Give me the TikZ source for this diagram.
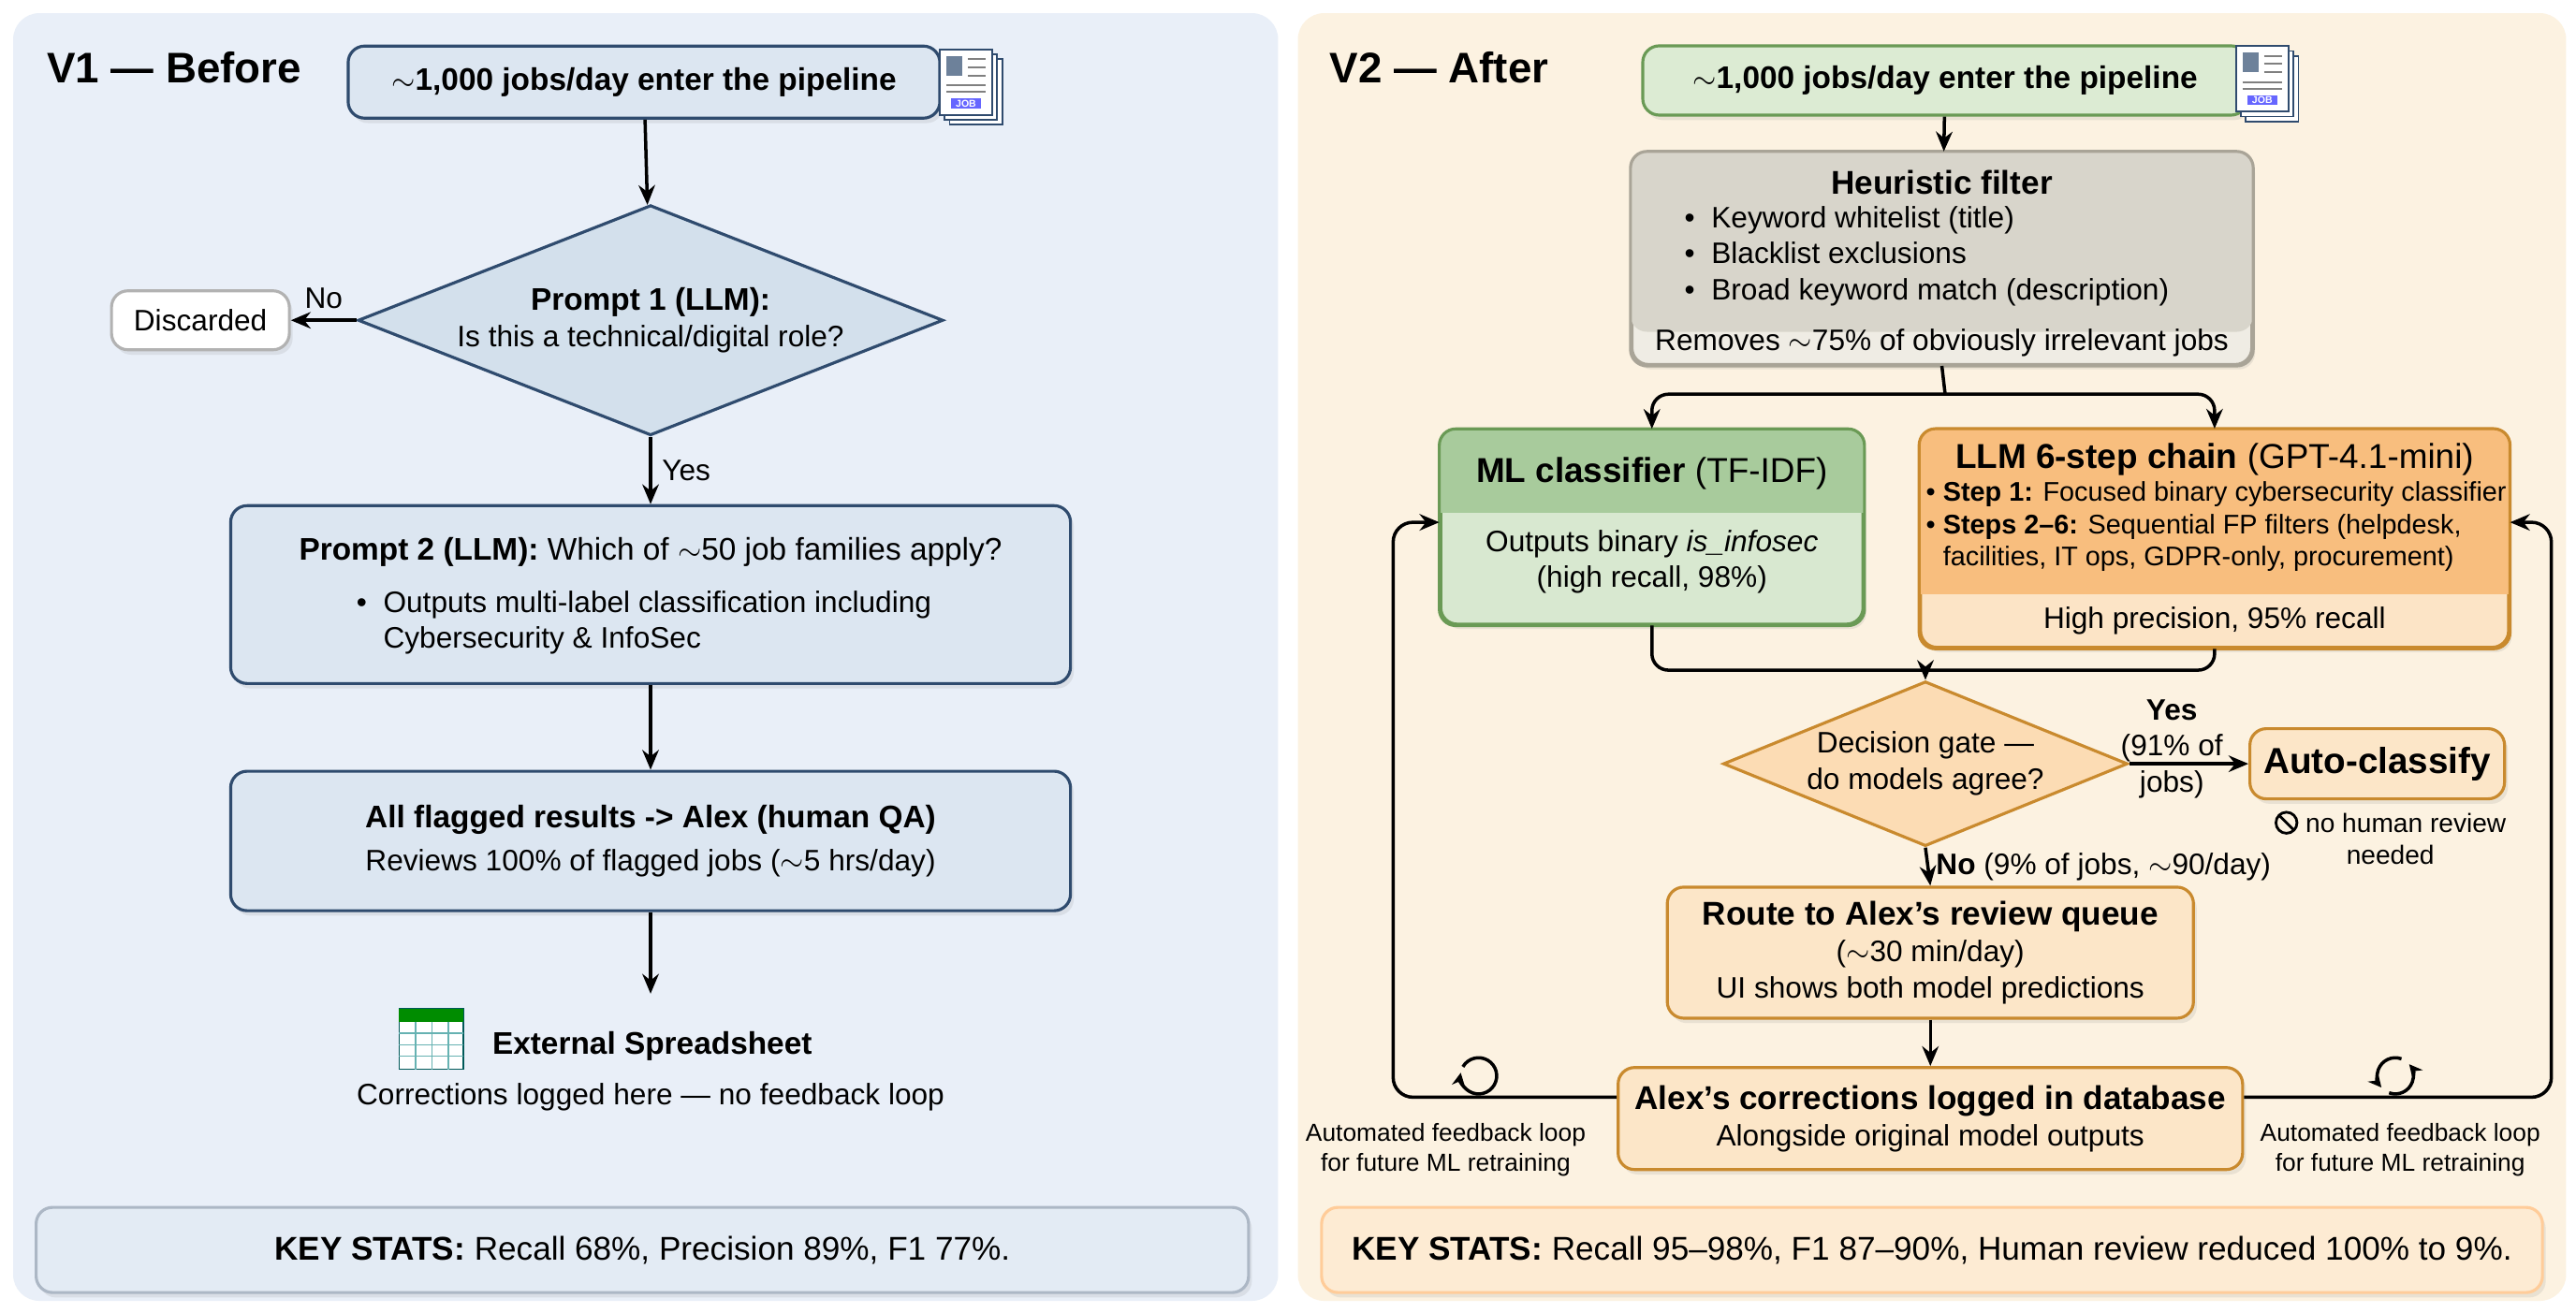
\documentclass[tikz,border=0pt]{standalone}
\usepackage{fontspec}
\setmainfont{Liberation Sans}
\usetikzlibrary{shapes.geometric,shadows,arrows.meta,calc}
\definecolor{leftbg}{HTML}{E9EFF8}
\definecolor{rightbg}{HTML}{FCF2E1}
\definecolor{bluefill}{HTML}{DCE6F1}
\definecolor{gatefill}{HTML}{D3E0EC}
\definecolor{blueline}{HTML}{2F4B6E}
\definecolor{greenfill}{HTML}{DCEBD3}
\definecolor{greenline}{HTML}{6A9A55}
\definecolor{heurhead}{HTML}{D8D5CB}
\definecolor{heurbody}{HTML}{EFECE4}
\definecolor{heurline}{HTML}{A9A497}
\definecolor{mlhead}{HTML}{A8CB9C}
\definecolor{mlbody}{HTML}{D8E8D0}
\definecolor{llmhead}{HTML}{F8BE7E}
\definecolor{llmbody}{HTML}{FCE4C6}
\definecolor{orangeline}{HTML}{C98A2E}
\definecolor{orangefill}{HTML}{FCE6C8}
\tikzset{
  box/.style={rectangle, rounded corners=5pt, draw, line width=0.9pt, align=center,
    inner sep=0pt, font=\fontsize{9}{11}\selectfont,
    drop shadow={opacity=0.15, shadow xshift=1pt, shadow yshift=-1.5pt}},
  vbox/.style={box, fill=bluefill, draw=blueline},
  obox/.style={box, fill=orangefill, draw=orangeline},
  gate/.style={diamond, draw, line width=0.9pt, align=center, inner sep=0pt,
    font=\fontsize{9}{11}\selectfont},
  txt/.style={align=center, inner sep=0pt, font=\fontsize{9}{11}\selectfont},
  small/.style={align=center, inner sep=0pt, font=\fontsize{7.5}{9}\selectfont},
  arr/.style={-{Stealth[length=6pt,width=5pt]}, line width=1pt},
  link/.style={line width=1pt, rounded corners=5pt},
  icon/.style={line width=1pt, -{Stealth[length=4pt,width=4pt]}},
}
\newcommand{\jobicon}[1]{%
  \foreach \d in {6,3,0}
    \draw[blueline, fill=white, line width=0.5pt] ($(#1)+(\d-16,\d-20)$) rectangle ($(#1)+(\d+16,\d+20)$);
  \fill[blueline!70] ($(#1)+(-12,-16)$) rectangle ($(#1)+(-2,-4)$);
  \foreach \l in {-14,-9,-4} \draw[gray, line width=0.6pt] ($(#1)+(1,\l)$) -- ($(#1)+(12,\l)$);
  \foreach \l in {2,6} \draw[gray, line width=0.6pt] ($(#1)+(-12,\l)$) -- ($(#1)+(12,\l)$);
  \fill[blue!60] ($(#1)+(-9,10)$) rectangle ($(#1)+(9,16)$);
  \node[font=\fontsize{3}{3}\selectfont\bfseries, text=white] at ($(#1)+(0,13)$) {JOB};}
\begin{document}
\begin{tikzpicture}[x=0.01755cm, y=-0.01755cm]
\useasboundingbox (0,0) rectangle (1568,799);
\fill[white] (0,0) rectangle (1568,799);
% panels
\fill[leftbg, rounded corners=8pt] (8,8) rectangle (778,792);
\fill[rightbg, rounded corners=8pt] (790,8) rectangle (1562,792);

% ---- V1 before
\node[inner sep=0pt, font=\fontsize{13}{15}\selectfont\bfseries] (t1) at (106,41) {V1 --- Before};
\node[vbox, minimum width=6.32cm, minimum height=0.77cm, font=\fontsize{9.5}{11}\selectfont\bfseries] (in1) at (392,50) {$\sim$1,000 jobs/day enter the pipeline};
\jobicon{588,50}
\node[gate, aspect=2.5, fill=gatefill, draw=blueline, minimum width=6.25cm, minimum height=2.46cm] (p1) at (396,195)
  {{\fontsize{9.5}{11}\selectfont\textbf{Prompt 1 (LLM):}}\\Is this a technical/digital role?};
\node[box, fill=white, draw=gray!60, minimum width=1.9cm, minimum height=0.63cm] (disc) at (122,195) {Discarded};
\node[vbox, minimum width=8.97cm, minimum height=1.9cm] (p2) at (396,362) {};
\node[txt, font=\fontsize{9.5}{11}\selectfont] (p2a) at (396,336) {\textbf{Prompt 2 (LLM):} Which of $\sim$50 job families apply?};
\node[txt, align=left] (p2b) at (392,379) {\textbullet\ \ Outputs multi-label classification including\\\phantom{\textbullet\ \ }Cybersecurity \& InfoSec};
\node[vbox, minimum width=8.97cm, minimum height=1.49cm] (qa) at (396,512)
  {{\fontsize{9.5}{11}\selectfont\textbf{All flagged results -> Alex (human QA)}}\\[2pt]Reviews 100\% of flagged jobs ($\sim$5 hrs/day)};
\node[txt, font=\fontsize{9.5}{11}\selectfont\bfseries] (sheet) at (397,637) {External Spreadsheet};
\node[txt] (sheetb) at (396,668) {Corrections logged here --- no feedback loop};
% spreadsheet icon
\draw[teal!70!black, fill=white, line width=0.5pt] (243,614) rectangle (282,651);
\fill[green!55!black] (243,614) rectangle (282,622);
\foreach \xx in {253,263,273} \draw[teal!60, line width=0.4pt] (\xx,622) -- (\xx,651);
\foreach \yy in {629,636,643} \draw[teal!60, line width=0.4pt] (243,\yy) -- (282,\yy);
\node[vbox, fill=bluefill!80!white, draw=blueline!40, minimum width=12.95cm, minimum height=0.91cm, font=\fontsize{10}{12}\selectfont] (ks1) at (391,761)
  {\textbf{KEY STATS:} Recall 68\%, Precision 89\%, F1 77\%.};
\draw[arr] (in1) -- (p1);
\draw[arr] (p1) -- (disc) node[midway, above, txt, yshift=3pt] {No};
\draw[arr] (p1) -- (p2) node[midway, right, txt, xshift=3pt] {Yes};
\draw[arr] (p2) -- (qa);
\draw[arr] (qa) -- (396,605);

% ---- V2 after
\node[inner sep=0pt, font=\fontsize{13}{15}\selectfont\bfseries] (t2) at (876,41) {V2 --- After};
\node[box, fill=greenfill, draw=greenline, minimum width=6.46cm, minimum height=0.74cm, font=\fontsize{9.5}{11}\selectfont\bfseries] (in2) at (1184,49) {$\sim$1,000 jobs/day enter the pipeline};
\jobicon{1377,48}
% heuristic filter
\node[box, fill=heurbody, draw=heurline, minimum width=6.62cm, minimum height=2.26cm] (heur) at (1182,157.5) {};
\fill[heurhead, rounded corners=5pt] (heur.north west) rectangle (heur.east |- 0,202);
\fill[heurhead] (heur.west |- 0,185) rectangle (heur.east |- 0,195);
\draw[heurline, line width=0.9pt, rounded corners=5pt] (heur.south west) rectangle (heur.north east);
\node[txt, font=\fontsize{10}{12}\selectfont\bfseries] (heurt) at (1182,111) {Heuristic filter};
\node[txt, align=left, anchor=north west] (heurl) at (1025,125) {\textbullet\ \ Keyword whitelist (title)\\\textbullet\ \ Blacklist exclusions\\\textbullet\ \ Broad keyword match (description)};
\node[txt] (heurb) at (1182,208.5) {Removes $\sim$75\% of obviously irrelevant jobs};
% ML classifier
\node[box, fill=mlbody, draw=greenline, minimum width=4.51cm, minimum height=2.07cm] (ml) at (1005.5,321) {};
\begin{scope}
\clip[rounded corners=5pt] (ml.south west) rectangle (ml.north east);
\fill[mlhead] (ml.north west) rectangle (ml.east |- 0,312);
\end{scope}
\draw[greenline, line width=0.9pt, rounded corners=5pt] (ml.south west) rectangle (ml.north east);
\node[txt, font=\fontsize{10.5}{12}\selectfont] (mlt) at (1005.5,288) {\textbf{ML classifier} (TF-IDF)};
\node[txt] (mlb) at (1005.5,342) {Outputs binary \emph{is\_infosec}\\(high recall, 98\%)};
% LLM chain
\node[box, fill=llmbody, draw=orangeline, minimum width=6.28cm, minimum height=2.32cm] (llm) at (1348,328) {};
\begin{scope}
\clip[rounded corners=5pt] (llm.south west) rectangle (llm.north east);
\fill[llmhead] (llm.north west) rectangle (llm.east |- 0,362);
\end{scope}
\draw[orangeline, line width=0.9pt, rounded corners=5pt] (llm.south west) rectangle (llm.north east);
\node[txt, font=\fontsize{10.5}{12}\selectfont] (llmt) at (1348,280) {\textbf{LLM 6-step chain} (GPT-4.1-mini)};
\node[txt, align=left, anchor=north west, font=\fontsize{8.2}{9.8}\selectfont] (llml) at (1172,293)
  {\textbullet\ \textbf{Step 1:} Focused binary cybersecurity classifier\\\textbullet\ \textbf{Steps 2--6:} Sequential FP filters (helpdesk,\\\phantom{\textbullet\ }facilities, IT ops, GDPR-only, procurement)};
\node[txt] (llmb) at (1348,378) {High precision, 95\% recall};
% decision
\node[gate, aspect=2.45, fill=orangefill!90!orange, draw=orangeline, minimum width=4.32cm, minimum height=1.76cm] (gate) at (1172,465)
  {Decision gate ---\\do models agree?};
\node[box, fill=orangefill, draw=orangeline, minimum width=2.72cm, minimum height=0.75cm, font=\fontsize{11}{13}\selectfont\bfseries] (auto) at (1447,465) {Auto-classify};
\node[small, font=\fontsize{8}{9.6}\selectfont] (nohr) at (1455,510) {\tikz[baseline=-3pt]{\draw[line width=0.8pt] (0,0) circle (3.2pt); \draw[line width=0.8pt] (-2.2pt,2.2pt) -- (2.2pt,-2.2pt);}\ no human review\\needed};
\node[obox, minimum width=5.62cm, minimum height=1.4cm] (route) at (1175,580)
  {{\fontsize{10}{12}\selectfont\textbf{Route to Alex's review queue}}\\($\sim$30 min/day)\\UI shows both model predictions};
\node[obox, minimum width=6.67cm, minimum height=1.09cm] (corr) at (1175,681)
  {{\fontsize{10}{12}\selectfont\textbf{Alex's corrections logged in database}}\\Alongside original model outputs};
\node[obox, fill=orangefill!80!white, draw=orange!40, minimum width=13.04cm, minimum height=0.91cm, font=\fontsize{10}{12}\selectfont] (ks2) at (1176,761)
  {\textbf{KEY STATS:} Recall 95--98\%, F1 87--90\%, Human review reduced 100\% to 9\%.};
\node[small] (fbl) at (880,700) {Automated feedback loop\\for future ML retraining};
\node[small] (fbr) at (1461,700) {Automated feedback loop\\for future ML retraining};
% refresh icons
\begin{scope}[shift={(900,655)}, x=1pt, y=1pt]
  \draw[icon] (150:5.5) arc (150:-190:5.5);
\end{scope}
\begin{scope}[shift={(1458,655)}, x=1pt, y=1pt]
  \draw[icon] (70:5.5) arc (70:220:5.5);
  \draw[icon] (250:5.5) arc (250:400:5.5);
\end{scope}

% connectors
\coordinate (split) at (1184,240);
\coordinate (merge) at (1172,408);
\draw[arr] (in2) -- (heur);
\draw[link] (heur.south) -- (split);
\draw[arr, rounded corners=5pt] (split) -| (ml.north);
\draw[arr, rounded corners=5pt] (split) -| (llm.north);
\draw[link] (ml.south) |- (merge);
\draw[link] (llm.south) |- (merge);
\draw[arr] (merge) -- (gate.north);
\draw[arr] (gate.east) -- (auto.west);
\node[txt] (yes) at (1322,456) {\textbf{Yes}\\(91\% of\\jobs)};
\draw[arr] (gate.south) -- (route.north) node[midway, right, txt, xshift=2pt] {\textbf{No} (9\% of jobs, $\sim$90/day)};
\draw[arr] (route) -- (corr);
\draw[arr, rounded corners=6pt] (corr.west |- 0,668) -- (848,668) -- (848,318) -- (ml.west |- 0,318);
\draw[arr, rounded corners=6pt] (corr.east |- 0,668) -- (1553,668) -- (1553,318) -- (llm.east |- 0,318);
\end{tikzpicture}
\end{document}
